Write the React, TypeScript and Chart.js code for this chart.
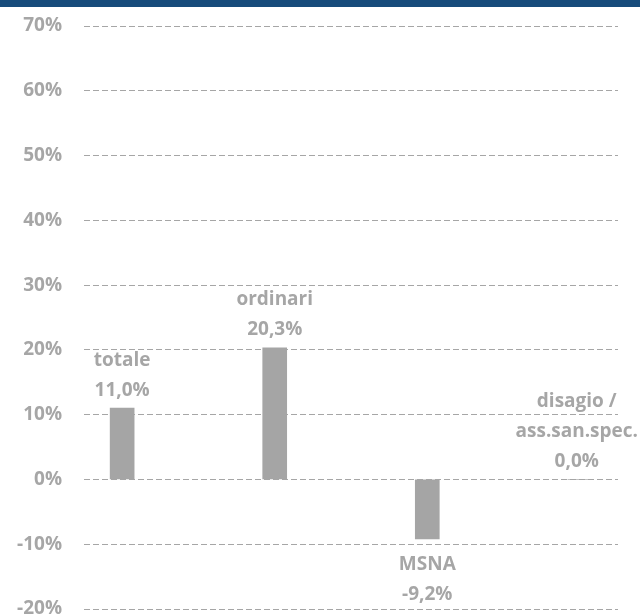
import React, { useEffect, useRef } from "react";
import { Chart, registerables } from "chart.js";

Chart.register(...registerables);

const categories = ["totale", "ordinari", "MSNA", "disagio /\nass.san.spec."];
const values = [11.0, 20.3, -9.2, 0.0];
const valueLabels = ["11,0%", "20,3%", "-9,2%", "0,0%"];
const yTicks = [-20, -10, 0, 10, 20, 30, 40, 50, 60, 70];

const GRAY = "#a6a6a6";
const FONT = "'Open Sans', sans-serif";

const labelPlugin = {
  id: "barLabels",
  afterDatasetsDraw(chart: any) {
    const ctx = chart.ctx;
    const meta = chart.getDatasetMeta(0);
    ctx.save();
    ctx.font = `bold 19px ${FONT}`;
    ctx.fillStyle = GRAY;
    ctx.textAlign = "center";
    ctx.textBaseline = "middle";
    const lineH = 30;
    meta.data.forEach((bar: any, i: number) => {
      const lines = [...categories[i].split("\n"), valueLabels[i]];
      const v = values[i];
      let cx = bar.x;
      const maxW = Math.max(...lines.map((l) => ctx.measureText(l).width));
      const right = chart.width - 2;
      if (cx + maxW / 2 > right) cx = right - maxW / 2;
      if (v >= 0) {
        const top = bar.y;
        const lastY = top - 18;
        lines.forEach((l, k) => {
          ctx.fillText(l, cx, lastY - (lines.length - 1 - k) * lineH);
        });
      } else {
        const bottom = bar.y;
        const firstY = bottom + 26;
        lines.forEach((l, k) => {
          ctx.fillText(l, cx, firstY + k * lineH);
        });
      }
    });
    ctx.restore();
  },
};

export default function App() {
  const ref = useRef<HTMLCanvasElement | null>(null);
  useEffect(() => {
    if (!ref.current) return;
    const chart = new Chart(ref.current, {
      type: "bar",
      data: {
        datasets: [
          {
            data: values.map((v, i) => ({ x: i, y: v })),
            backgroundColor: "#a5a5a5",
            borderWidth: 0,
            barThickness: 24,
          },
        ],
      },
      options: {
        responsive: false,
        animation: false,
        maintainAspectRatio: false,
        layout: { padding: { top: 26, bottom: 7, left: 0, right: 22 } },
        plugins: { legend: { display: false }, tooltip: { enabled: false } },
        scales: {
          x: {
            type: "linear",
            min: -0.25,
            max: 3.25,
            offset: false,
            display: false,
            grid: { display: false },
          },
          y: {
            min: -20,
            max: 70,
            afterBuildTicks: (scale: any) => {
              scale.ticks = yTicks.map((v) => ({ value: v }));
            },
            afterFit: (scale: any) => {
              scale.width = 84;
              scale.paddingTop = 0;
              scale.paddingBottom = 0;
            },
            grid: {
              color: GRAY,
              lineWidth: 1,
              drawTicks: false,
              tickLength: 0,
            },
            border: { display: false, dash: [6, 3] },
            ticks: {
              padding: 22,
              color: GRAY,
              font: { family: FONT, size: 19, weight: "bold" },
              callback: (v: any) => `${v}%`,
            },
          },
        },
      },
      plugins: [labelPlugin],
    });
    return () => chart.destroy();
  }, []);
  return (
    <div style={{ position: "fixed", left: 0, top: 0, width: 640, height: 616, background: "#fff" }}>
      <div style={{ position: "absolute", left: 0, top: 0, width: 640, height: 7, background: "#174b7b" }} />
      <canvas ref={ref} width={640} height={616} style={{ position: "absolute", left: 0, top: 0 }} />
    </div>
  );
}
